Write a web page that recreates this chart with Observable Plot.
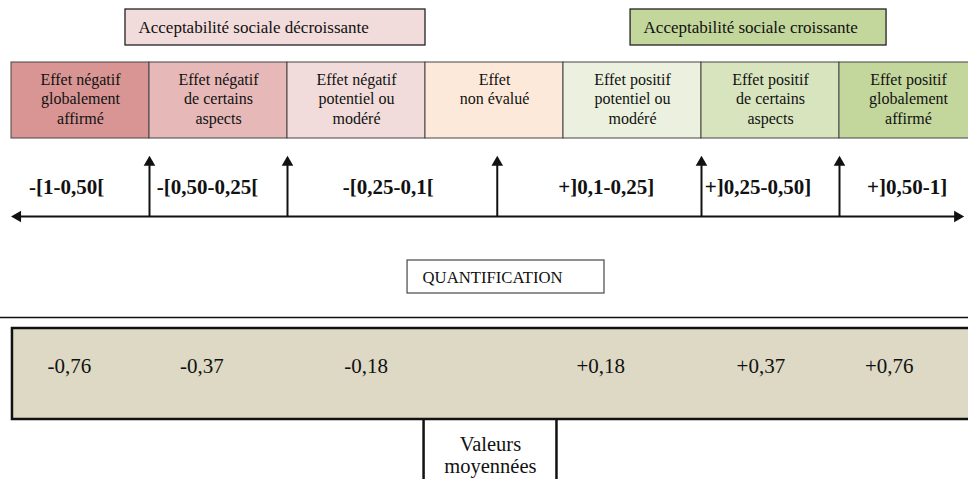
<!DOCTYPE html>
<html>
<head>
<meta charset="utf-8">
<script src="https://cdn.jsdelivr.net/npm/d3@7"></script>
<script src="https://cdn.jsdelivr.net/npm/@observablehq/plot@0.6"></script>
<style>
  body { margin: 0; background: #fff; }
  #chart svg { display: block; background: #fff; }
</style>
</head>
<body>
<div id="chart"></div>
<script>
// ---------- Data ----------
const categories = [
  "Effet négatif\nglobalement\naffirmé",
  "Effet négatif\nde certains\naspects",
  "Effet négatif\npotentiel ou\nmodéré",
  "Effet\nnon évalué",
  "Effet positif\npotentiel ou\nmodéré",
  "Effet positif\nde certains\naspects",
  "Effet positif\nglobalement\naffirmé"
];
const intervals = ["-[1-0,50[", "-[0,50-0,25[", "-[0,25-0,1[", "+]0,1-0,25]", "+]0,25-0,50]", "+]0,50-1]"];
const meanValues = [-0.76, -0.37, -0.18, 0.18, 0.37, 0.76];
const acceptLabels = ["Acceptabilité sociale décroissante", "Acceptabilité sociale croissante"];
const quantLabel = "QUANTIFICATION";
const meanLabel = "Valeurs\nmoyennées";

// ---------- Styles / layout (column units: one category column = 1) ----------
const categoryColors = ["#d99594", "#e6b9b8", "#f2dcdb", "#fde9d9", "#ebf1de", "#d7e4bd", "#c3d69b"];
const acceptColors = ["#f2dcdb", "#c3d69b"];
const acceptSpan = [[0.826, 3.0], [4.486, 6.341]];
const arrowAt = [1, 2, 3.52, 5, 6];
const intervalX = [0.40, 1.42, 2.73, 4.31, 5.41, 6.49];
const meanX = [0.42, 1.38, 2.57, 4.27, 5.43, 6.36];
const FONT = "'Liberation Serif', 'Times New Roman', serif";

const fmt = v => (v < 0 ? "-" : "+") + Math.abs(v).toFixed(2).replace(".", ",");

const cats = categories.map((c, i) => ({label: c, i, color: categoryColors[i]}));
const accept = acceptLabels.map((t, i) => ({label: t, x1: acceptSpan[i][0], x2: acceptSpan[i][1], color: acceptColors[i]}));
const ints = intervals.map((t, i) => ({label: t, x: intervalX[i]}));
const means = meanValues.map((v, i) => ({label: fmt(v), x: meanX[i]}));

const AXIS_Y = 216;

const chart = Plot.plot({
  width: 968,
  height: 479,
  margin: 0,
  x: {domain: [0, 7], range: [11, 977], axis: null},
  y: {domain: [0, 479], range: [0, 479], axis: null},
  style: {fontFamily: FONT, color: "#111"},
  marks: [
    // acceptability boxes
    Plot.rect(accept, {x1: "x1", x2: "x2", y1: 9, y2: 45, fill: "color", stroke: "#222", strokeWidth: 1.3}),
    Plot.text(accept, {x: "x1", y: 27, text: "label", textAnchor: "start", dx: 13, fontSize: 17, fill: "#111"}),
    // category cells
    Plot.rect(cats, {x1: d => d.i, x2: d => d.i + 1, y1: 62, y2: 138, fill: "color", stroke: "#444", strokeWidth: 1}),
    Plot.text(cats, {x: d => d.i + 0.5, y: 71, text: "label", lineAnchor: "top", lineHeight: 1.2, fontSize: 16, fill: "#111"}),
    // main horizontal axis with arrowheads
    Plot.ruleY([AXIS_Y], {x1: 0.05, x2: 6.85, stroke: "#111", strokeWidth: 2}),
    Plot.dot([{x: 0.045, r: -90}, {x: 6.855, r: 90}], {x: "x", y: AXIS_Y, symbol: "triangle", r: 4.3, rotate: "r", fill: "#111", stroke: null}),
    // vertical arrows
    Plot.ruleX(arrowAt, {y1: AXIS_Y, y2: 165, stroke: "#111", strokeWidth: 2}),
    Plot.dot(arrowAt, {x: d => d, y: 162, symbol: "triangle", r: 4.3, fill: "#111", stroke: null}),
    // interval labels
    Plot.text(ints, {x: "x", y: 187, text: "label", fontSize: 21, fontWeight: "bold", fill: "#111"}),
    // quantification box
    Plot.rect([quantLabel], {x1: 2.870, x2: 4.297, y1: 260, y2: 293, fill: "#fff", stroke: "#555", strokeWidth: 1.3}),
    Plot.text([quantLabel], {x: 2.870, y: 277, text: d => d, textAnchor: "start", dx: 15, fontSize: 16.7, fill: "#111"}),
    // mean values band
    Plot.ruleY([317], {x1: -0.2, x2: 7.3, stroke: "#111", strokeWidth: 1.5}),
    Plot.rect([0], {x1: 0.007, x2: 7.3, y1: 328, y2: 419, fill: "#ddd9c4", stroke: "#111", strokeWidth: 2.5}),
    Plot.text(means, {x: "x", y: 366, text: "label", fontSize: 21, fill: "#111"}),
    // "Valeurs moyennées" box
    Plot.ruleX([2.986, 3.949], {y1: 419, y2: 485, stroke: "#111", strokeWidth: 2.5}),
    Plot.text([meanLabel], {x: 3.47, y: 454, text: d => d, lineHeight: 1.08, fontSize: 20.5, fill: "#111"})
  ]
});
document.getElementById("chart").appendChild(chart);
</script>
</body>
</html>
